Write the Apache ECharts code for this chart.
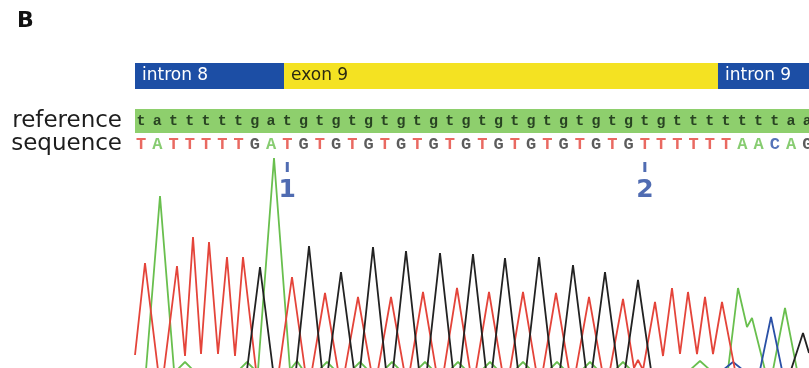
<!DOCTYPE html>
<html><head><meta charset="utf-8">
<script src="https://cdn.jsdelivr.net/npm/echarts@6/dist/echarts.min.js"></script>
<style>html,body{margin:0;padding:0;background:#fff}#c{width:809px;height:368px}</style>
</head><body><div id="c"></div>
<script>
// ---------- data ----------
const panelLabel = 'B';
const regionNames = ['intron 8', 'exon 9', 'intron 9'];
const regionKinds = ['intron', 'exon', 'intron'];
const regionStart = [-0.37, 8.8, 35.5];   // in base positions
const regionEnd   = [8.8, 35.5, 41.1];
const rowLabels = ['reference', 'sequence'];
const referenceSeq = ['tatttttgat', 'gtgtgtgtgtgtgtgtgtgtgtg', 'ttttttt', 'aa'].join('');
const sampleSeq    = ['TATTTTTGAT', 'GTGTGTGTGTGTGTGTGTGTG', 'TTTTTT', 'AACAGG'].join('');
const markerPos    = [9, 31];
const markerLabels = ['1', '2'];
// chromatogram traces: [scan, intensity]
const tTrace = [[0,15],[10,107],[23,0],
  [29,0],[42,104],[50,14],[58,133],[66,16],[74,128],[83,16],[92,113],[100,14],[108,113],[121,0],
  [144,0],[157,93],[170,0],[177,0],[190,77],[203,0],[210,0],[223,73],[236,0],[243,0],[256,73],[269,0],
  [275,0],[288,78],[301,0],[309,0],[322,82],[335,0],[341,0],[354,78],[367,0],[375,0],[388,78],[401,0],
  [408,0],[421,77],[434,0],[441,0],[454,73],[467,0],[475,0],[488,71],[499,2],[503,10],[508,0],
  [520,68],[528,14],[537,82],[545,16],[553,78],[562,16],[570,73],[578,16],[587,68],[600,0],[674,0]];
const gTrace = [[0,0],[112,0],[125,103],[138,0],[161,0],[174,124],[187,0],[193,0],[206,98],[219,0],
  [225,0],[238,123],[251,0],[258,0],[271,119],[284,0],[292,0],[305,117],[318,0],[325,0],[338,116],[351,0],
  [357,0],[370,112],[383,0],[391,0],[404,113],[417,0],[425,0],[438,105],[451,0],[457,0],[470,98],[483,0],
  [490,0],[503,90],[516,0],[656,0],[668,37],[674,17]];
const aTrace = [[0,0],[11,0],[25,174],[39,0],[42,0],[50,8],[58,0],[104,0],[112,8],[120,0],[123,0],[139,212],[155,0],
  [156,0],[162,9],[168,0],[184,0],[192,8],[200,0],[217,0],[225,8],[233,0],[249,0],[257,8],[265,0],[282,0],[290,8],[298,0],
  [315,0],[323,8],[331,0],[347,0],[355,8],[363,0],[380,0],[388,8],[396,0],[414,0],[422,8],[430,0],[447,0],[455,8],[463,0],
  [480,0],[488,8],[496,0],[555,0],[565,9],[575,0],[593,0],[603,82],[612,43],[617,52],[630,0],[638,0],[650,62],[662,0],[674,0]];
const cTrace = [[0,0],[588,0],[598,8],[608,0],[625,0],[636,53],[647,0],[674,0]];

// ---------- styles ----------
const FONT = 'DejaVu Sans';
const baseColors = { T: '#e4443a', A: '#69bf4e', G: '#333333', C: '#2a50a6' };
const regionColors = { intron: '#1c4ea5', exon: '#f4e222' };
const regionText = { intron: '#ffffff', exon: '#2b2a12' };
const posMin = -0.37, posMax = 41.1;

const chart = echarts.init(document.getElementById('c'), null, { renderer: 'canvas' });

const G = o => Object.assign({ left: 135, right: 0, outerBoundsMode: 'none', containLabel: false }, o);
const grids = [
  G({ top: 63, height: 26 }),                                                     // regions
  G({ top: 109, height: 24, show: true, backgroundColor: '#8ecf6d', borderWidth: 0 }), // reference
  G({ top: 134, height: 21 }),                                                    // sequence
  G({ top: 162, height: 10 }),                                                    // markers
  G({ top: 150, height: 220 })                                                    // traces
];
const posAxis = i => ({ type: 'value', gridIndex: i, min: posMin, max: posMax, show: false });
const xAxes = [posAxis(0), posAxis(1), posAxis(2), posAxis(3),
  { type: 'value', gridIndex: 4, min: 0, max: 674, show: false }];
const rowAxis = (i, name) => ({
  type: 'category', gridIndex: i, data: [name],
  axisLine: { show: false }, axisTick: { show: false }, splitLine: { show: false },
  axisLabel: { fontFamily: FONT, fontSize: 23, color: '#1d1d1d', margin: 13 }
});
const yAxes = [
  { type: 'value', gridIndex: 0, min: 0, max: 1, show: false },
  rowAxis(1, rowLabels[0]),
  rowAxis(2, rowLabels[1]),
  { type: 'value', gridIndex: 3, min: 0, max: 1, show: false },
  { type: 'value', gridIndex: 4, min: 0, max: 220, show: false }
];

const letterSeries = (seq, idx, colorFn, size, weight) => ({
  type: 'scatter', xAxisIndex: idx, yAxisIndex: idx, symbolSize: 0, silent: true,
  data: seq.split('').map((ch, i) => ({ value: [i, 0], name: ch, label: { color: colorFn(ch) } })),
  label: { show: true, position: 'inside', formatter: p => p.name, fontFamily: 'Liberation Mono',
    fontSize: size, fontWeight: weight }
});

const traceSeries = (data, color) => ({
  type: 'line', xAxisIndex: 4, yAxisIndex: 4, data, showSymbol: false, symbol: 'none', silent: true,
  lineStyle: { color, width: 1.8 }, clip: true
});

chart.setOption({
  animation: false,
  backgroundColor: '#ffffff',
  grid: grids, xAxis: xAxes, yAxis: yAxes,
  graphic: [{ type: 'text', left: 17, top: 10, style: { text: panelLabel, font: 'bold 22px "DejaVu Sans"', fill: '#111' } }],
  series: [
    traceSeries(aTrace, baseColors.A),
    traceSeries(cTrace, baseColors.C),
    traceSeries(tTrace, baseColors.T),
    traceSeries(gTrace, '#222222'),
    {
      type: 'custom', xAxisIndex: 0, yAxisIndex: 0, silent: true,
      data: regionNames.map((n, i) => [regionStart[i], regionEnd[i], i]),
      renderItem: (params, api) => {
        const i = api.value(2);
        const kind = regionKinds[i];
        const p0 = api.coord([api.value(0), 1]);
        const p1 = api.coord([api.value(1), 0]);
        return {
          type: 'rect',
          shape: { x: p0[0], y: p0[1], width: p1[0] - p0[0], height: p1[1] - p0[1] },
          style: { fill: regionColors[kind] },
          textContent: { style: { text: regionNames[i], fill: regionText[kind], font: '17px "DejaVu Sans"' } },
          textConfig: { position: 'insideLeft', distance: 7 }
        };
      }
    },
    letterSeries(referenceSeq, 1, () => '#0f1f0f', 15, 'bold'),
    letterSeries(sampleSeq, 2, ch => baseColors[ch], 17, 'bold'),
    {
      type: 'scatter', xAxisIndex: 3, yAxisIndex: 3, symbol: 'rect', symbolSize: [3, 10], silent: true,
      itemStyle: { color: '#24479f' },
      data: markerPos.map((p, i) => ({ value: [p, 0.5], name: markerLabels[i] })),
      label: { show: true, position: 'bottom', distance: 6, formatter: p => p.name,
        fontFamily: FONT, fontSize: 25, fontWeight: 'bold', color: '#24479f' }
    }
  ]
});
</script>
</body></html>
